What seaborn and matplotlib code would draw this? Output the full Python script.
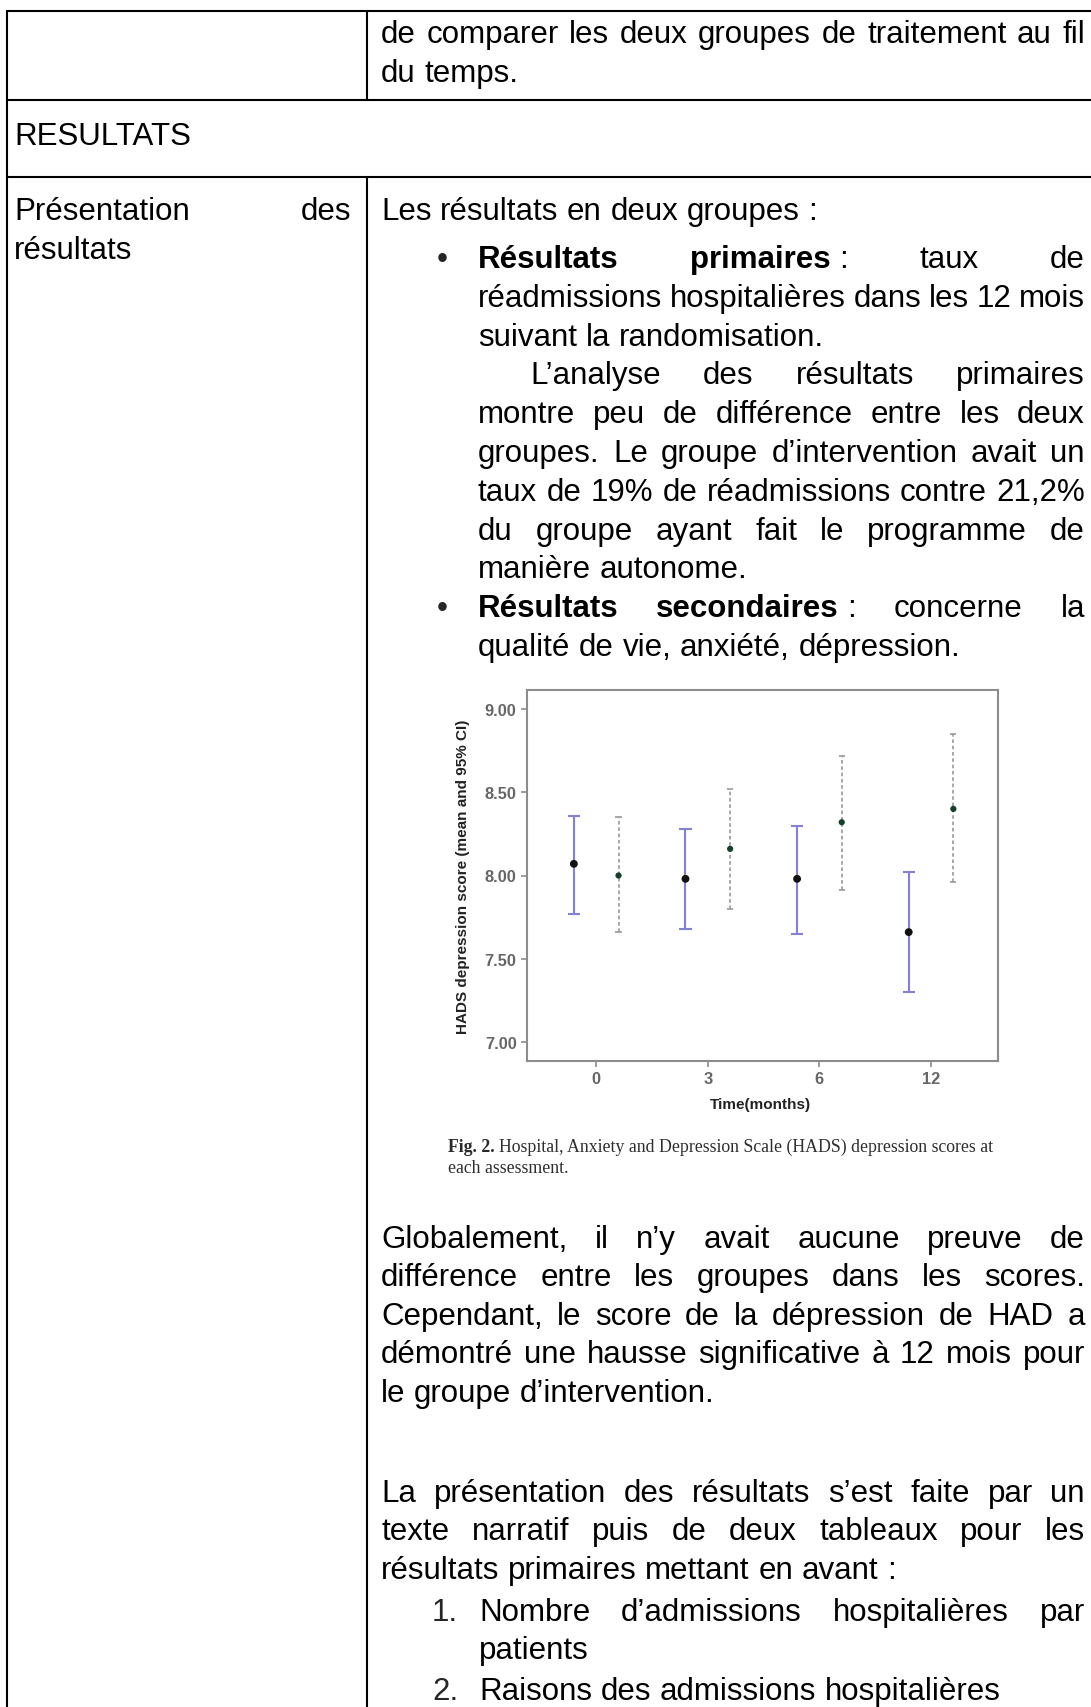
import matplotlib.pyplot as plt
import seaborn as sns
import pandas as pd
from matplotlib.lines import Line2D

# Chart values (HADS depression score, mean and 95% CI)
months = ['0', '3', '6', '12']
groups = ['Groupe 1', 'Groupe 2']
g1_mean = [8.07, 7.98, 7.98, 7.66]
g1_low = [7.77, 7.68, 7.65, 7.30]
g1_high = [8.36, 8.28, 8.30, 8.02]
g2_mean = [8.00, 8.16, 8.32, 8.40]
g2_low = [7.66, 7.80, 7.91, 7.96]
g2_high = [8.35, 8.52, 8.72, 8.85]
y_ticks = [7.0, 7.5, 8.0, 8.5, 9.0]

# Page text ( *bold*, ~ = glued space )
top_lines = ['de comparer les deux groupes de traitement au fil', 'du temps.']
intro_line = 'Les résultats en deux groupes :'
bullet_lines = [
    '*Résultats* *primaires*~: taux de',
    'réadmissions hospitalières dans les 12 mois',
    'suivant la randomisation.',
    'L’analyse des résultats primaires',
    'montre peu de différence entre les deux',
    'groupes. Le groupe d’intervention avait un',
    'taux de 19% de réadmissions contre 21,2%',
    'du groupe ayant fait le programme de',
    'manière autonome.',
    '*Résultats* *secondaires*~: concerne la',
    'qualité de vie, anxiété, dépression.',
]
para1 = ['Globalement, il n’y avait aucune preuve de',
         'différence entre les groupes dans les scores.',
         'Cependant, le score de la dépression de HAD a',
         'démontré une hausse significative à 12 mois pour',
         'le groupe d’intervention.']
para2 = ['La présentation des résultats s’est faite par un',
         'texte narratif puis de deux tableaux pour les',
         'résultats primaires mettant en avant :']
list_lines = [('1.', 'Nombre d’admissions hospitalières par'), ('', 'patients'),
              ('2.', 'Raisons des admissions hospitalières')]
caption = ['Fig. 2.', 'Hospital, Anxiety and Depression Scale (HADS) depression scores at',
           'each assessment.']

W, H = 1091, 1708
FS = 22.5
BODY = 'Liberation Sans'

sns.set_style('white')
plt.rcParams['font.family'] = ['Liberation Sans', 'DejaVu Sans']

fig = plt.figure(figsize=(W / 100, H / 100), dpi=100)
fig.patch.set_facecolor('white')
renderer = fig.canvas.get_renderer()


def fx(x):
    return x / W


def fy(y):
    return 1 - y / H


def text_w(s, weight='normal', size=FS, family=BODY):
    t = fig.text(0, 0, s, fontsize=size, fontweight=weight, family=family)
    w = t.get_window_extent(renderer=renderer).width
    t.remove()
    return w


SPACE = text_w('a a') - text_w('aa')


def parse(line):
    words = []
    for w in line.split(' '):
        segs = []
        for k, s in enumerate(w.split('~')):
            bold = s.startswith('*') and s.endswith('*') and len(s) > 1
            segs.append((s.strip('*') if bold else s, 'bold' if bold else 'normal', k > 0))
        words.append(segs)
    return words


def word_w(segs):
    return sum(text_w(s, wt) + (SPACE if lead else 0) for s, wt, lead in segs)


def draw_line(line, x0, y, x1=None):
    words = parse(line)
    widths = [word_w(w) for w in words]
    gap = SPACE
    if x1 is not None and len(words) > 1:
        gap = (x1 - x0 - sum(widths)) / (len(words) - 1)
    x = x0
    for segs, ww in zip(words, widths):
        xx = x
        for s, wt, lead in segs:
            if lead:
                xx += SPACE
            fig.text(fx(xx), fy(y), s, fontsize=FS, fontweight=wt, family=BODY,
                     va='baseline', ha='left', color='black')
            xx += text_w(s, wt)
        x += ww + gap


# table rules
def hline(y, x0=7, x1=W):
    fig.add_artist(Line2D([fx(x0), fx(x1)], [fy(y), fy(y)], transform=fig.transFigure,
                          color='black', lw=1.5))


def vline(x, y0, y1):
    fig.add_artist(Line2D([fx(x), fx(x)], [fy(y0), fy(y1)], transform=fig.transFigure,
                          color='black', lw=1.5))


hline(12)
hline(101)
hline(178)
vline(7, 12, H)
vline(367, 12, 101)
vline(367, 178, H)

XL, XR = 381, 1085
draw_line(top_lines[0], XL, 43, XR)
draw_line(top_lines[1], XL, 82)
draw_line('RESULTATS', 14, 145)
draw_line('Présentation des', 14, 220, 351)
draw_line('résultats', 14, 259)
draw_line(intro_line, XL, 220)

BX, TX = 437, 478
for k, line in enumerate(bullet_lines):
    y = 268 + k * 38.8
    last = k in (2, 8, 10)
    x0 = 530 if k == 3 else TX
    if line.startswith('*'):
        fig.text(fx(BX), fy(y), '•', fontsize=FS, family=BODY, va='baseline')
    draw_line(line, x0, y, None if last else XR)

for k, line in enumerate(para1):
    draw_line(line, XL, 1248 + k * 38.5, None if k == len(para1) - 1 else XR)
for k, line in enumerate(para2):
    draw_line(line, XL, 1502 + k * 38.5, None if k == len(para2) - 1 else XR)
for (num, line), y in zip(list_lines, [1621, 1659, 1700]):
    if num:
        fig.text(fx(432), fy(y), num, fontsize=FS, family=BODY, va='baseline')
    draw_line(line, 479, y, XR if num == '1.' else None)

# caption under the figure
CAP = 'Liberation Serif'
CS = 12.8
fig.text(fx(448), fy(1152), caption[0], fontsize=CS, fontweight='bold', family=CAP,
         color='#2a2a2a', va='baseline')
cx = 448 + text_w(caption[0], 'bold', CS, CAP) + text_w('a a', 'normal', CS, CAP) - text_w('aa', 'normal', CS, CAP)
fig.text(fx(cx), fy(1152), caption[1], fontsize=CS, family=CAP, color='#2e2e2e', va='baseline')
fig.text(fx(448), fy(1173), caption[2], fontsize=CS, family=CAP, color='#2e2e2e', va='baseline')

# the embedded chart
rows = []
for gi, (g, m, lo, hi) in enumerate(zip(groups, [g1_mean, g2_mean], [g1_low, g2_low], [g1_high, g2_high])):
    for i, t in enumerate(months):
        rows.append(dict(group=g, month=t, pos=i + (gi - 0.5) * 0.4,
                         mean=m[i], low=lo[i], high=hi[i]))
df = pd.DataFrame(rows)

ax = fig.add_axes([fx(527), fy(1062), (998 - 527) / W, (1062 - 691) / H])

for g, sub in df.groupby('group'):
    if g == groups[0]:
        kw = dict(color='#8181d6', lw=1.5, zorder=2)
        cap = 0.055
    else:
        kw = dict(color='#a0a0a0', lw=1.3, linestyles=(0, (2, 1.5)), zorder=2)
        cap = 0.028
    ax.vlines(sub['pos'], sub['low'], sub['high'], **kw)
    kw.pop('linestyles', None)
    ax.hlines(sub['low'], sub['pos'] - cap, sub['pos'] + cap, **kw)
    ax.hlines(sub['high'], sub['pos'] - cap, sub['pos'] + cap, **kw)

sns.scatterplot(data=df, x='pos', y='mean', hue='group',
                palette={groups[0]: '#111111', groups[1]: '#16402a'},
                size='group', sizes={groups[0]: 32, groups[1]: 20},
                linewidth=0, legend=False, ax=ax, zorder=3)

ax.set_xlim(-0.62, 3.6)
ax.set_ylim(6.886, 9.114)
ax.set_xticks(range(len(months)))
ax.set_xticklabels(months)
ax.set_yticks(y_ticks)
ax.set_yticklabels([f'{v:.2f}' for v in y_ticks])
ax.tick_params(axis='both', bottom=True, left=True, direction='out', length=4.5,
               width=1.2, color='#8c8c8c', labelsize=11.8, labelcolor='#666666', pad=3)
for lab in ax.get_xticklabels() + ax.get_yticklabels():
    lab.set_fontweight('bold')
for s in ax.spines.values():
    s.set_color('#8c8c8c')
    s.set_linewidth(1.5)

ax.set_xlabel('Time(months)', fontsize=11, fontweight='bold', color='#222222')
ax.xaxis.set_label_coords(0.495, -0.097)
ax.set_ylabel('HADS depression score (mean and 95% CI)', fontsize=11,
              fontweight='bold', color='#222222')
ax.yaxis.set_label_coords(-0.121, 0.5)

fig.savefig('out.png', dpi=100, facecolor='white')
